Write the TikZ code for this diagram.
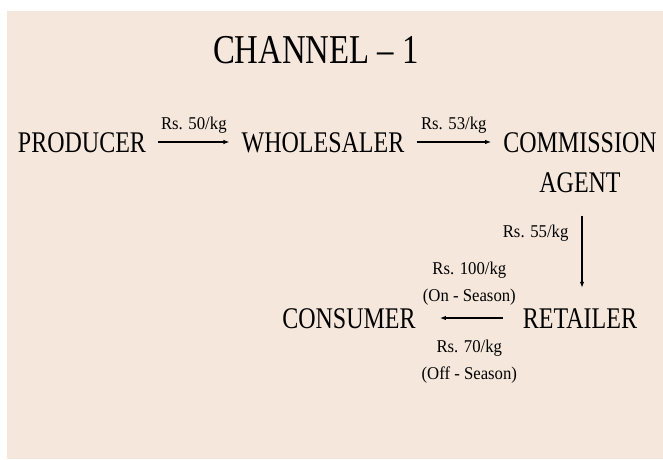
\documentclass[tikz,border=0pt]{standalone}
\usepackage{fontspec}
\usepackage{graphicx}
\setmainfont{Liberation Serif}
\usetikzlibrary{arrows.meta}
\definecolor{paper}{RGB}{245,231,219}
\newcommand{\narrowtext}[1]{\scalebox{0.8}[1]{#1}}
\newcommand{\pricetext}[1]{\scalebox{0.93}[1]{#1}}

\begin{document}
\begin{tikzpicture}
[x=1pt,y=-1pt,
stage/.style={font=\fontsize{30}{40}\selectfont,inner xsep=12pt,inner ysep=0pt,text height=20pt,text depth=0pt},
titleLabel/.style={font=\fontsize{41}{41}\selectfont,inner sep=0pt},
priceLabel/.style={font=\fontsize{18}{27}\selectfont,inner sep=0pt,align=center},
flow/.style={line width=1.2pt,-{Latex[length=6pt,width=4.5pt]}},
]
\useasboundingbox (0,0) rectangle (663,459);
\fill[paper] (7,11) rectangle (663,459);
\node[titleLabel,anchor=base] (title) at (316,63) {\narrowtext{CHANNEL \textendash{} 1}};
\node[stage] (producer) at (82,142) {\narrowtext{PRODUCER}};
\node[stage] (wholesaler) at (323,142) {\narrowtext{WHOLESALER}};
\node[stage,text height=,text depth=,align=center,anchor=north] (agent) at (580,132) {\narrowtext{COMMISSION}\\\narrowtext{AGENT}};
\node[stage] (retailer) at (580,318) {\narrowtext{RETAILER}};
\node[stage] (consumer) at (349,318) {\narrowtext{CONSUMER}};
\draw[flow] (producer) -- node[priceLabel,above=8pt] (price1) {\pricetext{Rs. 50/kg}} (wholesaler);
\draw[flow] (wholesaler) -- node[priceLabel,above=8pt] (price2) {\pricetext{Rs. 53/kg}} (wholesaler -| agent.west);
\draw[flow] ([xshift=2pt,yshift=-23pt]agent.south) -- node[priceLabel,left=13pt,pos=0.25] (price3) {\pricetext{Rs. 55/kg}} ([xshift=2pt,yshift=20pt]retailer.north);
\draw[flow,shorten <=8pt,shorten >=12pt] (retailer) -- node[priceLabel,above=12pt] (price4) {\pricetext{Rs. 100/kg}\\\pricetext{(On - Season)}} node[priceLabel,below=21pt] (price5) {\pricetext{Rs. 70/kg}\\\pricetext{(Off - Season)}} (consumer);
\end{tikzpicture}
\end{document}
